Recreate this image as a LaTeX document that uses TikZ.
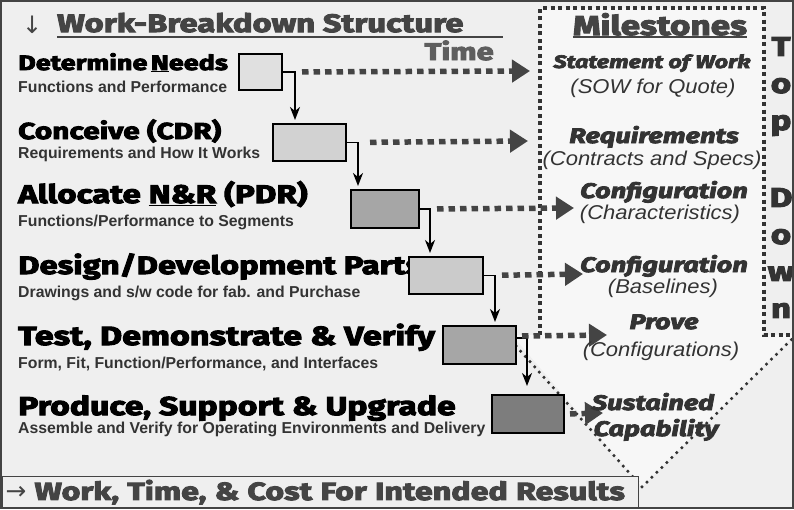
\documentclass[tikz,border=0pt]{standalone}
\usepackage{fontspec}
\setmainfont{Liberation Sans}
\newfontfamily\blackfam{Fira Sans}[FakeStretch=1.3,BoldFeatures={FakeBold=4},BoldItalicFeatures={FakeBold=4}]
\newcommand\heavyface{\blackfam\bfseries}
\newfontfamily\notefont{Liberation Sans}[FakeStretch=1.1]
\newfontfamily\arrowfont{DejaVu Sans}
\usepackage{tikz}
\usetikzlibrary{arrows.meta,calc}
\definecolor{paper}{HTML}{EFEFEF}
\definecolor{inner}{HTML}{F7F7F7}
\definecolor{ink}{HTML}{444444}
\definecolor{inkdark}{HTML}{333333}
\definecolor{timegray}{HTML}{5E5E5E}
\definecolor{boxA}{HTML}{E0E0E0}
\definecolor{boxB}{HTML}{D2D2D2}
\definecolor{boxC}{HTML}{A6A6A6}
\definecolor{boxD}{HTML}{CBCBCB}
\definecolor{boxE}{HTML}{7D7D7D}

\begin{document}
\begin{tikzpicture}[x=1pt,y=-1pt,
    head/.style={anchor=base west,inner sep=0pt},
    sub/.style={anchor=base west,inner sep=0pt,text=inkdark,font=\bfseries\fontsize{15.8}{16}\selectfont},
    stage/.style={draw,line width=2pt,inner sep=0pt,anchor=north west},
    flow/.style={line width=1.8pt,shorten >=3pt,-{Stealth[length=13pt,width=10pt,inset=4pt]}},
    dots/.style={ink,line width=5.5pt,dash pattern=on 6.5pt off 5pt,-{Triangle[length=18pt,width=22pt]}},
    mshead/.style={anchor=base,inner sep=0pt,text=inkdark,font=\heavyface\itshape\fontsize{21}{21}\selectfont},
    msnote/.style={anchor=base,inner sep=0pt,text=inkdark,font=\notefont\itshape\fontsize{20}{20}\selectfont}]

  \fill[paper] (0,0) rectangle (794,509);
  \useasboundingbox (0,0) rectangle (794,509);

  % milestone arrow
  \fill[inner] (540,8) -- (764,8) -- (764,335) -- (794,335) -- (642,487) -- (512,335) -- (540,335) -- cycle;
  \draw[inkdark,line width=4pt,dash pattern=on 4pt off 3.5pt] (540,335) -- (540,8) -- (764,8) -- (764,335) -- (794,335);
  \draw[inkdark,line width=3.5pt,line cap=round,dash pattern=on 0pt off 7pt] (516,346) -- (642,487) -- (793,338);

  % titles
  \node[head,text=ink,font=\arrowfont\fontsize{24}{24}\selectfont] (down) at (22,33) {↓};
  \node[head,text=ink,font=\heavyface\fontsize{25.2}{25}\selectfont] (wbs) at (57,32) {Work-Breakdown Structure};
  \draw[ink,line width=1.6pt] ([yshift=-5pt]wbs.base west) -- +(446,0);
  \node[anchor=base east,inner sep=0pt,text=timegray,font=\heavyface\fontsize{24}{24}\selectfont] (time) at (494,60) {Time};
  \node[anchor=base,inner sep=0pt,text=ink,font=\heavyface\fontsize{27}{27}\selectfont] (mstitle) at (660,35) {Milestones};
  \draw[ink,line width=1.6pt] ([yshift=-2pt]mstitle.base west) -- ([yshift=-2pt]mstitle.base east);
  \node[anchor=north,align=center,inner sep=0pt,text=inkdark,font=\heavyface\fontsize{27}{37}\selectfont] (topdown) at (781,37) {T\\o\\p\\[40pt]D\\o\\w\\n};

  % stages
  \foreach \nm/\y/\sz/\lab in {
      needs/70/20.8/{Determine\,\underline{N}eeds},
      conceive/139/23/{Conceive (CDR)},
      allocate/203/25.5/{Allocate \underline{N\&R} (PDR)},
      design/274/25.2/{Design/Development Parts},
      test/345/26.3/{Test, Demonstrate \& Verify},
      produce/415/25.9/{Produce, Support \& Upgrade}}
    { \node[head,font=\heavyface\fontsize{\sz}{\sz}\selectfont] (\nm-lab) at (18,\y) {\lab}; }
  \foreach \nm/\y/\lab in {
      needs/92/{Functions and Performance},
      conceive/158/{Requirements and How It Works},
      allocate/226/{Functions/Performance to Segments},
      design/297/{Drawings and s/w code for fab. and Purchase},
      test/368/{Form, Fit, Function/Performance, and Interfaces},
      produce/433/{Assemble and Verify for Operating Environments and Delivery}}
    { \node[sub] (\nm-sub) at (18,\y) {\lab}; }
  \foreach \nm/\x/\y/\w/\h/\c in {
      needs/238/53/43/36/boxA, conceive/272/123/73/37/boxB,
      allocate/350/189/68/38/boxC, design/408/256/74/37/boxD,
      test/442/325/73/38/boxC, produce/491/394/72/38/boxE}
    { \node[stage,fill=\c,minimum width=\w,minimum height=\h] (\nm) at (\x,\y) {}; }

  \draw[flow] (needs.east) -| ([xshift=23pt]conceive.north west);
  \draw[flow] (conceive.east) -| ([xshift=8pt]allocate.north west);
  \draw[flow] (allocate.east) -| ([xshift=22pt]design.north west);
  \draw[flow] (design.east) -| ([xshift=53pt]test.north west);
  \draw[flow,shorten >=8pt] ([yshift=7pt]test.east) -| ([xshift=36pt]produce.north west);

  % milestones
  \foreach \nm/\x/\y in {sow/530/71, req/528/141, char/574/208, base/583/274, prove/607/335, sust/603/413}
    { \coordinate (\nm) at (\x,\y); }
  \draw[dots,shorten <=19pt] (needs.east) -- (sow);
  \draw[dots,shorten <=23pt] (conceive.east) -- (req);
  \draw[dots,shorten <=17pt] (allocate.east) -- (char);
  \draw[dots,shorten <=18pt] (design.east) -- (base);
  \draw[dots,shorten <=5pt] ([yshift=9pt]test.east) -- (prove);
  \draw[dots,shorten <=5pt] (produce.east) -- (sust);

  \foreach \nm/\x/\y/\sz/\lab in {
      sow/652/68/18/{Statement of Work}, req/654/143/21/{Requirements},
      char/664/198/21/{Configuration}, base/664/272/21/{Configuration},
      prove/664/329/21/{Prove}, sust/653/410/21/{Sustained}}
    { \node[mshead,font=\heavyface\itshape\fontsize{\sz}{\sz}\selectfont] (\nm-head) at (\x,\y) {\lab}; }
  \node[mshead] (sust-next) at (656,436) {Capability};
  \foreach \nm/\x/\y/\lab in {
      sow/653/93/{(SOW for Quote)}, req/652/165/{(Contracts and Specs)},
      char/660/219/{(Characteristics)}, base/663/293/{(Baselines)},
      prove/661/356/{(Configurations)}}
    { \node[msnote] (\nm-note) at (\x,\y) {\lab}; }

  % bottom line
  \node[draw=ink,fill=paper,line width=1.2pt,anchor=north west,minimum height=31pt,
        text width=630pt,inner xsep=3pt,inner ysep=0pt,align=left,text=ink,
        font=\heavyface\fontsize{24.8}{25}\selectfont] (results) at (2,476)
        {\mbox{{\arrowfont\mdseries →} Work, Time, \& Cost For Intended Results}};

  \draw[ink,line width=1.5pt] (1,1) rectangle (793,508);
\end{tikzpicture}
\end{document}
